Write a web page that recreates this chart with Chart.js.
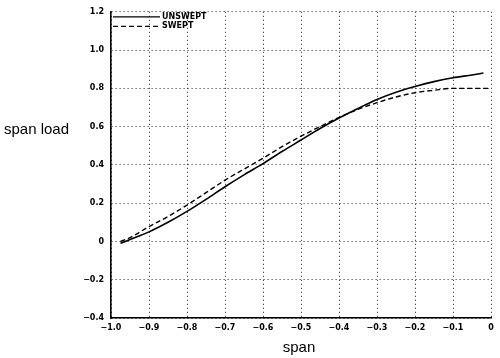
<!DOCTYPE html>
<html>
<head>
<meta charset="utf-8">
<script src="https://cdn.jsdelivr.net/npm/chart.js@4/dist/chart.umd.min.js"></script>
<style>
  html, body { margin: 0; padding: 0; background: #fff; }
  canvas { display: block; }
</style>
</head>
<body>
<canvas id="chart" width="500" height="358"></canvas>
<script>
// spanwise stations (x) and load values
const unsweptSpan = [-0.975, -0.95, -0.9, -0.85, -0.8, -0.75, -0.7, -0.65, -0.6, -0.55, -0.5, -0.45, -0.4, -0.35, -0.3, -0.25, -0.2, -0.15, -0.1, -0.05, -0.02];
const unsweptLoad = [-0.01, 0.01, 0.05, 0.10, 0.157, 0.22, 0.286, 0.348, 0.407, 0.47, 0.53, 0.59, 0.645, 0.695, 0.742, 0.78, 0.81, 0.835, 0.855, 0.87, 0.88];
const sweptSpan = [-0.975, -0.95, -0.9, -0.85, -0.8, -0.75, -0.7, -0.65, -0.6, -0.55, -0.5, -0.45, -0.4, -0.35, -0.3, -0.25, -0.2, -0.15, -0.1, -0.05, 0];
const sweptLoad = [0.0, 0.02, 0.078, 0.13, 0.19, 0.255, 0.32, 0.378, 0.435, 0.495, 0.55, 0.60, 0.648, 0.69, 0.725, 0.755, 0.777, 0.79, 0.80, 0.80, 0.80];
const seriesNames = ['UNSWEPT', 'SWEPT'];
const xTitle = 'span';
const yTitle = 'span load';

const tickFont = { family: '"DejaVu Sans"', size: 8, weight: 'bold' };

function pts(xs, ys) {
  return xs.map((x, i) => ({ x: x, y: ys[i] }));
}

function fmt(v) {
  if (Math.abs(v) < 1e-9) return '0';
  return v.toFixed(1).replace('-', '\u2212');
}

// axis titles (y title is horizontal) and the little legend inside the plot
const extras = {
  id: 'extras',
  afterDraw(chart) {
    const ctx = chart.ctx;
    const a = chart.chartArea;
    ctx.save();
    ctx.fillStyle = '#000';
    ctx.font = '15px "Liberation Sans", Arial, sans-serif';
    ctx.textBaseline = 'alphabetic';
    ctx.textAlign = 'left';
    ctx.fillText(yTitle, 4, 134);
    ctx.textAlign = 'center';
    ctx.fillText(xTitle, (a.left + a.right) / 2 - 2, 352);

    chart.data.datasets.forEach((ds, i) => {
      const y = a.top + 5 + i * 9.5;
      ctx.strokeStyle = '#000';
      ctx.lineWidth = 1.3;
      ctx.setLineDash(ds.borderDash || []);
      ctx.beginPath();
      ctx.moveTo(a.left + 2, y);
      ctx.lineTo(a.left + 49, y);
      ctx.stroke();
      ctx.setLineDash([]);
      ctx.font = 'bold 8px "DejaVu Sans", sans-serif';
      ctx.textAlign = 'left';
      ctx.textBaseline = 'middle';
      ctx.fillText(ds.label, a.left + 51, y);
    });
    ctx.restore();
  }
};

new Chart(document.getElementById('chart'), {
  type: 'line',
  data: {
    datasets: [
      {
        label: seriesNames[0],
        data: pts(unsweptSpan, unsweptLoad),
        borderColor: '#000',
        borderWidth: 1.6,
        pointRadius: 0,
        cubicInterpolationMode: 'monotone'
      },
      {
        label: seriesNames[1],
        data: pts(sweptSpan, sweptLoad),
        borderColor: '#000',
        borderWidth: 1.4,
        borderDash: [5, 3],
        pointRadius: 0,
        cubicInterpolationMode: 'monotone'
      }
    ]
  },
  options: {
    responsive: false,
    animation: false,
    layout: { padding: { top: 9, right: 9, left: 0, bottom: 0 } },
    plugins: {
      legend: { display: false },
      tooltip: { enabled: false }
    },
    scales: {
      x: {
        type: 'linear',
        min: -1,
        max: 0,
        afterFit: s => { s.height = 40; },
        ticks: {
          stepSize: 0.1,
          color: '#000',
          font: tickFont,
          padding: 5,
          maxRotation: 0,
          autoSkip: false,
          callback: v => fmt(v)
        },
        grid: { color: '#222', lineWidth: 1, drawTicks: false },
        border: { display: true, color: '#000', width: 1.6, dash: [1, 3] }
      },
      y: {
        min: -0.4,
        max: 1.2,
        afterFit: s => { s.width = 111; },
        ticks: {
          stepSize: 0.2,
          color: '#000',
          font: tickFont,
          padding: 7,
          callback: v => fmt(v)
        },
        grid: { color: '#222', lineWidth: 1, drawTicks: false },
        border: { display: true, color: '#000', width: 1.6, dash: [1, 3] }
      }
    }
  },
  plugins: [extras]
});
</script>
</body>
</html>
